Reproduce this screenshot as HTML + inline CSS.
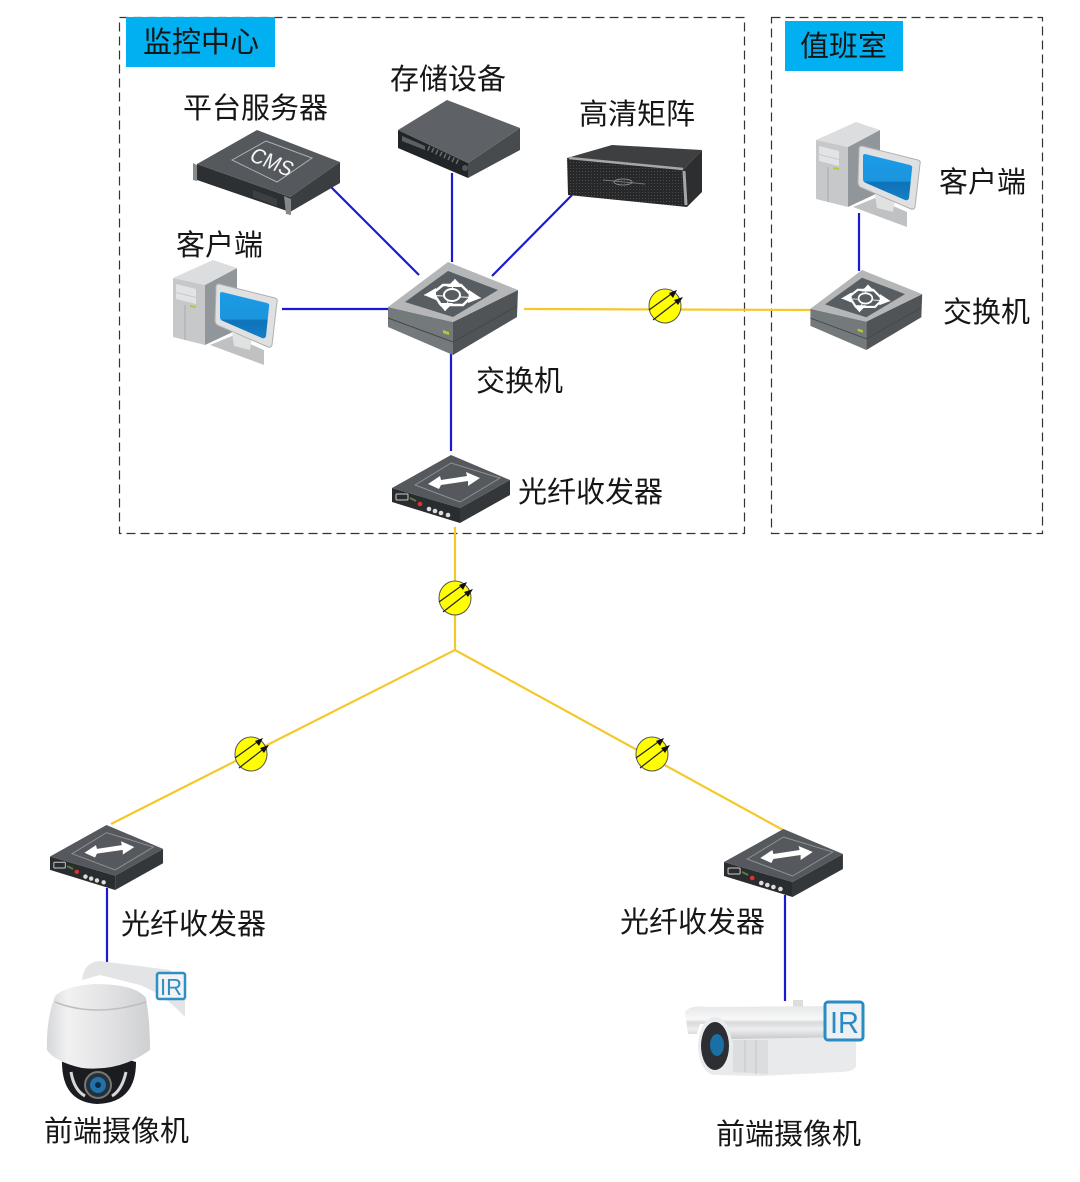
<!DOCTYPE html>
<html><head><meta charset="utf-8"><style>
html,body{margin:0;padding:0;background:#fff}
svg{display:block}
text{font-family:"Liberation Sans","Noto Sans CJK SC",sans-serif;font-size:29px;fill:#161616}
</style></head><body>
<svg width="1080" height="1182" viewBox="0 0 1080 1182" xmlns="http://www.w3.org/2000/svg">
<defs>
<linearGradient id="cam" x1="0" x2="1" y1="0" y2="0"><stop offset="0" stop-color="#d6d7d9"/><stop offset=".2" stop-color="#f1f1f2"/><stop offset=".5" stop-color="#e6e6e8"/><stop offset="1" stop-color="#cfd0d2"/></linearGradient>
<linearGradient id="bul" x1="0" x2="0" y1="0" y2="1"><stop offset="0" stop-color="#e6e7e8"/><stop offset=".4" stop-color="#f8f8f9"/><stop offset=".5" stop-color="#d8d9db"/><stop offset=".7" stop-color="#eeeeef"/><stop offset="1" stop-color="#c8c9cc"/></linearGradient>
<linearGradient id="scr" x1="0" x2="0" y1="0" y2="1"><stop offset="0" stop-color="#1b9be6"/><stop offset=".58" stop-color="#1b95de"/><stop offset=".62" stop-color="#0f72b8"/><stop offset="1" stop-color="#1380c8"/></linearGradient>
<pattern id="grid" width="3" height="3" patternUnits="userSpaceOnUse"><rect width="3" height="3" fill="#26282a"/><rect width="1" height="1" fill="#4a4c4e"/></pattern>

<g id="sw">
<path d="M388 307 L453 322 L453 355 L388 327Z" fill="#74797b"/>
<path d="M453 322 L518 290 L517 317 L453 355Z" fill="#505457"/>
<path d="M388 318 L453 342 L517 306" fill="none" stroke="#44484a" stroke-width="1"/>
<path d="M388 307 L448 262 L518 290 L453 322Z" fill="#b4b6b7"/>
<path d="M405 302 L448 271 L498 290 L453 317Z" fill="#585d62"/>
<path d="M424 295 L481 298 M455 279 L445 311" stroke="#fff" stroke-width="1" fill="none"/>
<path d="M433 293 L443 285 L461 285 L472 296 L463 305 L441 305Z" fill="none" stroke="#fff" stroke-width="2.500"/>
<path d="M424 295 L436 288 L436 300Z M481 298 L469 290 L468 303Z M455 279 L447 287 L463 287Z M445 311 L438 303 L453 303Z" fill="#fff"/>
<ellipse cx="452" cy="295" rx="8" ry="6" fill="#585d62" stroke="#fff" stroke-width="2"/>
<path d="M443 330 L449 332 L449 335 L443 333Z" fill="#b8c838"/>
</g>

<g id="fo">
<path d="M392 488 L460 508 L460 523 L392 502Z" fill="#2a2d30"/>
<path d="M460 508 L510 480 L510 495 L460 523Z" fill="#34373a"/>
<path d="M392 488 L451 455 L510 480 L460 508Z" fill="#55595e"/>
<path d="M415 485 L451 463 L500 478 L460 502Z" fill="none" stroke="#8f9295" stroke-width="1"/>
<path d="M428 484 L440 476 L441 480 L467 476 L466 472 L480 478 L468 486 L468 481 L441 485 L439 489Z" fill="#fff"/>
<rect x="396" y="494" width="12" height="6" rx="1" fill="none" stroke="#ccc" stroke-width="1"/>
<path d="M410 498 L416 501" stroke="#5f7a3a" stroke-width="2"/>
<circle cx="420" cy="504" r="2.300" fill="#e03030"/>
<circle cx="429" cy="509" r="2.300" fill="#ddd"/><circle cx="435" cy="511" r="2.300" fill="#ddd"/><circle cx="441" cy="513" r="2.300" fill="#ddd"/><circle cx="448" cy="515" r="2.300" fill="#ddd"/>
</g>

<g id="pc">
<path d="M205 285 L237 268 L237 330 L205 345Z" fill="#90969a"/>
<path d="M173 278 L213 260 L237 268 L205 285Z" fill="#dcddde"/>
<path d="M173 278 L205 285 L205 345 L173 337Z" fill="#c6c8c9"/>
<path d="M176 284 L196 289 L196 297 L176 292Z" fill="#e2e3e4"/>
<path d="M176 293 L196 298 L196 304 L176 299Z" fill="#e2e3e4"/>
<path d="M190 306 L196 307" stroke="#b8c838" stroke-width="2"/>
<path d="M185 305 L185 340" stroke="#a8aaab" stroke-width="1"/>
<path d="M210 345 L232 336 L264 350 L264 365Z" fill="#bfc1c2"/>
<path d="M232 333 L252 338 L250 350 L234 346Z" fill="#e0e1e1"/>
<path d="M219 284 L275 298 Q278 299 277 302 L272 345 Q271 348 268 347 L217 325 Q215 323 215 320 L216 287 Q216 284 219 284Z" fill="#dfe0e1" stroke="#aeb0b2" stroke-width="1"/>
<path d="M222 292 L267 303 Q270 304 269 307 L266 336 Q265 339 262 338 L223 321 Q220 320 220 317 L220 294 Q220 292 222 292Z" fill="url(#scr)"/>
</g>

<g id="bb">
<ellipse cx="0" cy="0" rx="16" ry="17" fill="#ffff00" stroke="#555" stroke-width="1"/>
<path d="M-16 4 L9 -14 M-12 14 L15 -7" stroke="#222" stroke-width="1.200"/>
<path d="M12 -16 L4 -13 L8 -8Z M18 -9 L9 -6 L13 -1Z" fill="#111"/>
</g>
</defs>

<rect x="119.500" y="17.500" width="625" height="516" fill="none" stroke="#333" stroke-width="1.200" stroke-dasharray="9 5"/>
<rect x="771.500" y="17.500" width="271" height="516" fill="none" stroke="#333" stroke-width="1.200" stroke-dasharray="9 5"/>
<rect x="126" y="17" width="149" height="50" fill="#00b0f0"/>
<rect x="785" y="21" width="118" height="50" fill="#00b0f0"/>

<g stroke="#1a1ad2" stroke-width="2.200" fill="none">
<path d="M330 186 L419 275"/>
<path d="M452 173 L452 262"/>
<path d="M572 195 L492 276"/>
<path d="M282 309 L388 309"/>
<path d="M451 350 L451 451"/>
<path d="M859 213 L859 271"/>
<path d="M107 888 L107 962"/>
<path d="M785 895 L785 1001"/>
</g>
<g stroke="#f5c82a" stroke-width="2.200" fill="none">
<path d="M524 309 L811 310"/>
<path d="M455 527 L455 650 L111 824"/>
<path d="M455 650 L783 830"/>
</g>

<use href="#bb" x="665" y="306"/>
<use href="#bb" x="455" y="598"/>
<use href="#bb" x="251" y="754"/>
<use href="#bb" x="652" y="754"/>

<use href="#sw"/>
<use href="#sw" transform="translate(862 270) scale(.86) translate(-448 -262)"/>
<use href="#fo"/>
<use href="#fo" transform="translate(50 825) scale(.958 .956) translate(-392 -455)"/>
<use href="#fo" transform="translate(724 829) scale(1.008 1) translate(-392 -455)"/>
<use href="#pc"/>
<use href="#pc" transform="translate(643 -138)"/>

<!-- CMS server -->
<path d="M197 164 L290 197 L290 212 L197 180Z" fill="#2c3033"/>
<path d="M290 197 L340 162 L340 183 L290 212Z" fill="#3a3e41"/>
<path d="M197 164 L257 130 L340 162 L290 197Z" fill="#55595d"/>
<path d="M232 160 L266 141 L312 158 L277 182Z" fill="none" stroke="#b0b2b5" stroke-width="1"/>
<text transform="matrix(.92 .38 -.5 .85 248 160)" style="font-size:22px;fill:#f5f5f5" textLength="44" lengthAdjust="spacingAndGlyphs">CMS</text>
<path d="M193 163 L197 165 L197 181 L193 180Z" fill="#888b8d"/>
<path d="M284 196 L291 199 L291 215 L286 214Z" fill="#85888a"/>
<path d="M253 190 L277 199 L277 206 L253 197Z" fill="#3c4043"/>

<!-- storage -->
<path d="M398 130 L468 163 L468 178 L398 148Z" fill="#222528"/>
<path d="M468 163 L520 128 L520 150 L468 178Z" fill="#474b4e"/>
<path d="M398 130 L447 100 L520 128 L468 163Z" fill="#5e6267"/>
<path d="M402 136 L425 146 L425 150 L402 141Z" fill="#5c6064"/>
<path d="M428 148 L458 162" stroke="#6a6e72" stroke-width="5" stroke-dasharray="1.500 3"/>
<circle cx="465" cy="168" r="3" fill="#555"/>

<!-- matrix -->
<path d="M683 170 L702 150 L702 192 L687 207Z" fill="#2c2e30"/>
<path d="M567 158 L612 145 L702 150 L683 170Z" fill="#3d3f41"/>
<path d="M567 158 L683 170 L687 207 L568 195Z" fill="url(#grid)"/>
<path d="M569 158 L683 169" stroke="#a5a7a8" stroke-width="2.500"/>
<path d="M684 171 L686 205" stroke="#a5a7a8" stroke-width="3"/>
<path d="M603 180 L645 184" stroke="#777" stroke-width="1"/>
<ellipse cx="623" cy="182" rx="9" ry="3" fill="none" stroke="#888" stroke-width="1"/>

<!-- PTZ camera -->
<path d="M82 980 Q84 962 100 961 L170 970 L185 988 L185 1017 Q165 995 140 985 L100 975Z" fill="#e3e4e6"/>
<path d="M62 1062 Q85 1046 136 1062 Q136 1103 97 1104 Q62 1102 62 1062Z" fill="#1b1c20"/>
<path d="M71 1072 Q74 1090 85 1096 M126 1072 Q122 1090 112 1096" stroke="#d8d8da" stroke-width="3" fill="none"/>
<path d="M55 996 Q65 986 95 984 Q135 984 146 998 Q150 1020 150 1050 Q120 1072 82 1068 Q55 1062 47 1050 Q46 1020 55 996Z" fill="url(#cam)"/>
<path d="M55 1002 Q95 1018 146 1002" fill="none" stroke="#bdbec0" stroke-width="1.500"/>
<circle cx="98" cy="1085" r="13" fill="#25303b" stroke="#777" stroke-width="2"/>
<circle cx="98" cy="1085" r="8" fill="#1f73a8"/>
<circle cx="98" cy="1085" r="3" fill="#0d2b44"/>
<rect x="157" y="973" width="28" height="26" rx="2" fill="#f1f3f5" stroke="#2f8fc4" stroke-width="2.500"/>
<text x="160" y="995" style="font-size:23px;fill:#2f8fc4" textLength="22" lengthAdjust="spacingAndGlyphs">IR</text>

<!-- bullet camera -->
<rect x="793" y="1000" width="10" height="8" fill="#ddd"/>
<path d="M730 1036 L856 1036 L856 1066 Q854 1072 840 1072 L760 1076 L715 1075Z" fill="#e9eaeb"/>
<path d="M733 1040 L768 1040 L768 1074 L733 1072Z" fill="#dcdddf"/>
<path d="M745 1040 V1072 M756 1040 V1074" stroke="#c6c7c9" stroke-width="1"/>
<path d="M685 1012 Q690 1005 705 1007 L850 1006 Q857 1012 857 1037 L730 1039 Q725 1022 700 1024 L697 1034 L688 1034Z" fill="url(#bul)"/>
<ellipse cx="715" cy="1046" rx="17" ry="29" fill="#eaebec"/>
<ellipse cx="715" cy="1046" rx="14" ry="24" fill="#2c2e33"/>
<ellipse cx="717" cy="1045" rx="7" ry="11" fill="#1a6fa6"/>
<rect x="825" y="1002" width="38" height="38" rx="3" fill="#eef0f2" stroke="#2a8cc4" stroke-width="3"/>
<text x="830" y="1033" style="font-size:31px;fill:#2a8cc4" textLength="29" lengthAdjust="spacingAndGlyphs">IR</text>

<text x="143" y="52">监控中心</text>
<text x="800" y="56">值班室</text>
<text x="183" y="118">平台服务器</text>
<text x="390" y="89">存储设备</text>
<text x="579" y="124">高清矩阵</text>
<text x="176" y="255">客户端</text>
<text x="939" y="192">客户端</text>
<text x="943" y="322">交换机</text>
<text x="476" y="391">交换机</text>
<text x="518" y="502">光纤收发器</text>
<text x="121" y="934">光纤收发器</text>
<text x="620" y="932">光纤收发器</text>
<text x="44" y="1141">前端摄像机</text>
<text x="716" y="1144">前端摄像机</text>
</svg>
</body></html>
